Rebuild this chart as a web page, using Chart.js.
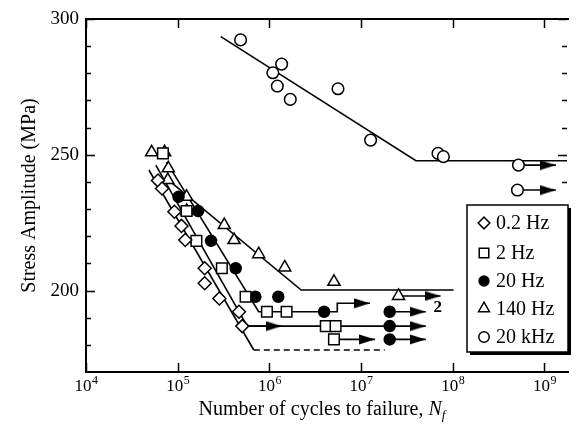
<!DOCTYPE html>
<html>
<head>
<meta charset="utf-8">
<script src="https://cdn.jsdelivr.net/npm/chart.js@4.4.1/dist/chart.umd.min.js"></script>
<style>
  html, body { margin: 0; padding: 0; background: #fff; }
  #wrap { width: 576px; height: 437px; }
</style>
</head>
<body>
<div id="wrap"><canvas id="snChart" width="576" height="437"></canvas></div>
<script>
// axis ticks
const xTicks = [1e4, 1e5, 1e6, 1e7, 1e8, 1e9];
const yTicks = [200, 250, 300];
const yMinorTicks = [180, 190, 210, 220, 230, 240, 260, 270, 280, 290];
const seriesNames = ['0.2 Hz', '2 Hz', '20 Hz', '140 Hz', '20 kHz'];

// test points (cycles, stress amplitude MPa)
const cyc02 = [6.1e4, 6.75e4, 9.2e4, 1.10e5, 1.21e5, 1.97e5, 1.97e5, 2.85e5, 4.66e5, 5.06e5];
const amp02 = [240.5, 237.6, 229.0, 223.8, 218.6, 208.2, 202.7, 197.1, 192.2, 186.9];

const cyc2 = [6.9e4, 1.25e5, 1.60e5, 3.03e5, 5.50e5, 9.4e5, 1.54e6, 4.12e6, 5.27e6, 5.06e6];
const amp2 = [250.5, 229.3, 218.3, 208.2, 197.7, 192.2, 192.2, 186.9, 186.9, 182.0];

const cyc20 = [1.02e5, 1.67e5, 2.31e5, 4.29e5, 7.03e5, 1.25e6, 3.95e6, 2.05e7, 2.05e7, 2.05e7];
const amp20 = [234.5, 229.3, 218.3, 208.2, 197.7, 197.7, 192.2, 192.2, 186.9, 182.0];

const cyc140 = [5.2e4, 7.2e4, 7.9e4, 7.8e4, 1.25e5, 1.25e5, 3.22e5, 4.12e5, 7.64e5, 1.47e6, 5.06e6, 2.56e7];
const amp140 = [250.9, 250.9, 245.0, 240.7, 234.5, 229.3, 224.1, 218.6, 213.4, 208.5, 203.2, 198.0];

const cyc20k = [4.85e5, 1.09e6, 1.36e6, 1.22e6, 1.69e6, 5.6e6, 1.27e7, 6.9e7, 7.9e7, 5.2e8, 5.07e8];
const amp20k = [292.3, 280.2, 283.4, 275.3, 270.4, 274.3, 255.4, 250.5, 249.3, 246.2, 237.0];

// fitted S-N lines
const fitACyc = [4.85e4, 6.76e5];
const fitAAmp = [244.4, 178.1];
const fitADashCyc = [6.76e5, 1.81e7];
const fitADashAmp = [178.1, 178.1];
const fitBCyc = [5.77e4, 5.73e5, 2.05e7];
const fitBAmp = [246.2, 186.9, 186.9];
const fitCCyc = [7.57e4, 7.64e5, 5.5e6, 5.5e6, 1.25e7];
const fitCAmp = [247.3, 192.2, 192.2, 195.3, 195.3];
const fit140Cyc = [8.36e4, 2.22e6, 1.02e8];
const fit140Amp = [240.0, 200.2, 200.2];
const fit20kCyc = [2.95e5, 3.96e7, 1.76e9];
const fit20kAmp = [293.5, 247.8, 247.8];

// run-out arrows
const runFrom = [5.2e8, 5.07e8, 2.05e7, 2.05e7, 2.05e7, 5.06e6, 2.56e7, 5.73e5];
const runTo = [1.33e9, 1.33e9, 5.07e7, 5.07e7, 5.07e7, 1.42e7, 7.35e7, 1.36e6];
const runAmp = [246.2, 237.0, 192.2, 186.9, 182.0, 182.0, 198.0, 186.9];

const noteText = '2';
const noteCyc = 6.87e7;
const noteAmp = 193.6;

const SERIF = "'Liberation Serif', 'DejaVu Serif', serif";

function pts(xs, ys) {
    return xs.map((v, i) => ({ x: v, y: ys[i] }));
}

// arrow head image, tip sits on the point
const arrowImg = document.createElement('canvas');
arrowImg.width = 32;
arrowImg.height = 11;
(function () {
    const c = arrowImg.getContext('2d');
    c.fillStyle = '#000';
    c.beginPath();
    c.moveTo(0, 0.5);
    c.lineTo(16, 5.5);
    c.lineTo(0, 10.5);
    c.closePath();
    c.fill();
})();

const markerStyles = [
    { pointStyle: 'rectRot', radius: 6.5, fill: '#fff' },
    { pointStyle: 'rect', radius: 7.5, fill: '#fff' },
    { pointStyle: 'circle', radius: 5.5, fill: '#000' },
    { pointStyle: 'triangle', radius: 7, fill: '#fff' },
    { pointStyle: 'circle', radius: 5.8, fill: '#fff' }
];

const pointSets = [[cyc02, amp02], [cyc2, amp2], [cyc20, amp20], [cyc140, amp140], [cyc20k, amp20k]];

const datasets = [];
pointSets.forEach((p, i) => {
    const m = markerStyles[i];
    datasets.push({
        label: seriesNames[i],
        data: pts(p[0], p[1]),
        showLine: false,
        pointStyle: m.pointStyle,
        pointRadius: m.radius,
        pointBackgroundColor: m.fill,
        pointBorderColor: '#000',
        pointBorderWidth: 1.5,
        order: 0
    });
});

function lineSet(xs, ys, dash) {
    return {
        data: pts(xs, ys),
        showLine: true,
        borderColor: '#000',
        borderWidth: 1.6,
        borderDash: dash || [],
        pointRadius: 0,
        order: 2
    };
}
datasets.push(lineSet(fitACyc, fitAAmp));
datasets.push(lineSet(fitADashCyc, fitADashAmp, [6, 4]));
datasets.push(lineSet(fitBCyc, fitBAmp));
datasets.push(lineSet(fitCCyc, fitCAmp));
datasets.push(lineSet(fit140Cyc, fit140Amp));
datasets.push(lineSet(fit20kCyc, fit20kAmp));

// arrow on the end of the step line
datasets.push({
    data: [{ x: fitCCyc[fitCCyc.length - 1], y: fitCAmp[fitCAmp.length - 1] }],
    showLine: false,
    pointStyle: arrowImg,
    pointRadius: 7,
    order: 1
});

runFrom.forEach((n, i) => {
    datasets.push({
        data: [{ x: n, y: runAmp[i] }, { x: runTo[i], y: runAmp[i] }],
        showLine: true,
        borderColor: '#000',
        borderWidth: 1.6,
        pointStyle: arrowImg,
        pointRadius: [0, 7],
        order: 1
    });
});

// frame, inward ticks, x labels, x title, note and legend
const decorPlugin = {
    id: 'decor',
    afterDatasetsDraw(chart) {
        const { ctx, chartArea: a, scales: { x, y } } = chart;
        ctx.save();
        ctx.strokeStyle = '#000';
        ctx.lineWidth = 2;
        ctx.beginPath();
        ctx.moveTo(a.right + 2, a.top);
        ctx.lineTo(a.left, a.top);
        ctx.lineTo(a.left, a.bottom);
        ctx.lineTo(a.right + 2, a.bottom);
        ctx.stroke();

        ctx.lineWidth = 1.5;
        ctx.beginPath();
        xTicks.forEach(v => {
            const px = Math.round(x.getPixelForValue(v)) + 0.5;
            ctx.moveTo(px, a.bottom);
            ctx.lineTo(px, a.bottom - 9);
            ctx.moveTo(px, a.top);
            ctx.lineTo(px, a.top + 9);
        });
        yTicks.forEach(v => {
            const py = Math.round(y.getPixelForValue(v)) + 0.5;
            ctx.moveTo(a.left, py);
            ctx.lineTo(a.left + 9, py);
            ctx.moveTo(a.right, py);
            ctx.lineTo(a.right - 9, py);
        });
        yMinorTicks.forEach(v => {
            const py = Math.round(y.getPixelForValue(v)) + 0.5;
            ctx.moveTo(a.left, py);
            ctx.lineTo(a.left + 5, py);
            ctx.moveTo(a.right, py);
            ctx.lineTo(a.right - 5, py);
        });
        ctx.stroke();

        // decade labels 10^n
        ctx.fillStyle = '#000';
        ctx.textBaseline = 'alphabetic';
        ctx.textAlign = 'left';
        xTicks.forEach(v => {
            const px = x.getPixelForValue(v);
            const ex = String(Math.round(Math.log10(v)));
            ctx.font = '17px ' + SERIF;
            const wb = ctx.measureText('10').width;
            ctx.font = '12px ' + SERIF;
            const we = ctx.measureText(ex).width;
            const sx = px - (wb + we) / 2;
            ctx.font = '17px ' + SERIF;
            ctx.fillText('10', sx, 391);
            ctx.font = '12px ' + SERIF;
            ctx.fillText(ex, sx + wb + 0.5, 384);
        });

        // note beside the run-out arrow
        ctx.font = 'bold 17px ' + SERIF;
        ctx.textAlign = 'center';
        ctx.textBaseline = 'middle';
        ctx.fillText(noteText, x.getPixelForValue(noteCyc), y.getPixelForValue(noteAmp));

        // x axis title with italic N and subscript f
        const main = 'Number of cycles to failure, ';
        ctx.textAlign = 'left';
        ctx.textBaseline = 'alphabetic';
        ctx.font = '20px ' + SERIF;
        const w1 = ctx.measureText(main).width;
        ctx.font = 'italic 20px ' + SERIF;
        const w2 = ctx.measureText('N').width;
        ctx.font = 'italic 13px ' + SERIF;
        const w3 = ctx.measureText('f').width;
        let tx = 322 - (w1 + w2 + w3) / 2;
        const base = 415;
        ctx.font = '20px ' + SERIF;
        ctx.fillText(main, tx, base);
        tx += w1;
        ctx.font = 'italic 20px ' + SERIF;
        ctx.fillText('N', tx, base);
        tx += w2;
        ctx.font = 'italic 13px ' + SERIF;
        ctx.fillText('f', tx, base + 4);
        ctx.restore();
    },
    afterDraw(chart) {
        const ctx = chart.ctx;
        const bx = 467, by = 205, bw = 101, bh = 147;
        ctx.save();
        ctx.fillStyle = '#000';
        ctx.fillRect(bx + 3, by + 3, bw, bh);
        ctx.fillStyle = '#fff';
        ctx.fillRect(bx, by, bw, bh);
        ctx.strokeStyle = '#000';
        ctx.lineWidth = 1.5;
        ctx.strokeRect(bx, by, bw, bh);

        const rows = [223, 253, 281, 308.5, 337];
        seriesNames.forEach((name, i) => {
            const m = markerStyles[i];
            ctx.fillStyle = m.fill;
            ctx.strokeStyle = '#000';
            ctx.lineWidth = 1.5;
            Chart.helpers.drawPoint(ctx, {
                pointStyle: m.pointStyle,
                radius: m.radius * 0.9,
                rotation: 0,
                borderWidth: 1.5
            }, 484, rows[i]);
            ctx.fillStyle = '#000';
            ctx.font = '20px ' + SERIF;
            ctx.textAlign = 'left';
            ctx.textBaseline = 'middle';
            ctx.fillText(name, 496, rows[i] + 1);
        });
        ctx.restore();
    }
};

new Chart(document.getElementById('snChart'), {
    type: 'scatter',
    data: { datasets: datasets },
    options: {
        responsive: false,
        animation: false,
        devicePixelRatio: 1,
        layout: { padding: { top: 19, right: 0, left: 0, bottom: 0 } },
        plugins: {
            legend: { display: false },
            tooltip: { enabled: false }
        },
        scales: {
            x: {
                type: 'logarithmic',
                bounds: 'data',
                min: 1e4,
                max: 1.76e9,
                grid: { display: false, drawTicks: false },
                border: { display: false },
                afterBuildTicks: axis => { axis.ticks = xTicks.map(v => ({ value: v })); },
                afterFit: axis => { axis.height = 65; },
                ticks: { display: false }
            },
            y: {
                type: 'linear',
                min: 170,
                max: 300,
                grid: { display: false, drawTicks: false },
                border: { display: false },
                afterBuildTicks: axis => { axis.ticks = yTicks.map(v => ({ value: v })); },
                afterFit: axis => { axis.width = 86; },
                ticks: {
                    padding: 7,
                    color: '#000',
                    font: { family: SERIF, size: 19 }
                },
                title: {
                    display: true,
                    text: 'Stress Amplitude (MPa)',
                    color: '#000',
                    font: { family: SERIF, size: 20 },
                    padding: { top: 18, bottom: 0 }
                }
            }
        }
    },
    plugins: [decorPlugin]
});
</script>
</body>
</html>
